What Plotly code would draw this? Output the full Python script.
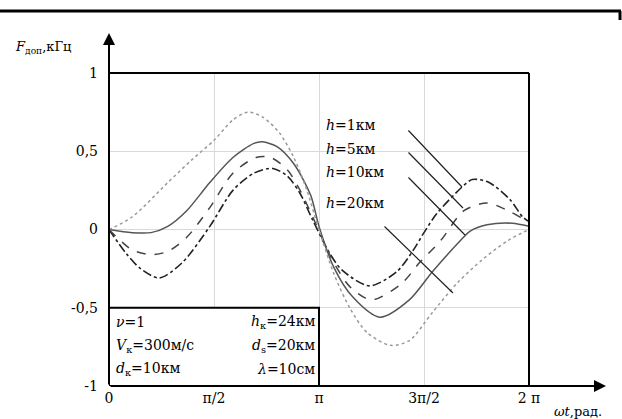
import math
import plotly.graph_objects as go

# x positions in units of pi, values in kHz
t_h1 = [0, 0.08, 0.15, 0.24, 0.35, 0.48, 0.59, 0.69, 0.78, 0.85, 0.91, 0.97, 1.05, 1.11, 1.24, 1.37, 1.45, 1.50, 1.56, 1.68, 1.73, 1.81, 1.91, 1.97, 2.0]
f_h1 = [0, -0.15, -0.25, -0.31, -0.21, 0.02, 0.25, 0.36, 0.39, 0.34, 0.23, 0.06, -0.15, -0.26, -0.36, -0.27, -0.13, -0.02, 0.10, 0.27, 0.32, 0.30, 0.19, 0.08, 0.05]

t_h5 = [0, 0.11, 0.20, 0.28, 0.37, 0.48, 0.59, 0.70, 0.77, 0.85, 0.91, 0.97, 1.07, 1.15, 1.25, 1.39, 1.48, 1.58, 1.69, 1.80, 1.90, 1.97, 2.0]
f_h5 = [0, -0.13, -0.16, -0.14, -0.05, 0.14, 0.36, 0.46, 0.46, 0.38, 0.25, 0.08, -0.21, -0.37, -0.45, -0.35, -0.21, -0.07, 0.12, 0.17, 0.12, 0.07, 0.05]

t_h10 = [0, 0.11, 0.20, 0.28, 0.37, 0.48, 0.59, 0.69, 0.73, 0.80, 0.88, 0.96, 1.0, 1.07, 1.16, 1.29, 1.43, 1.54, 1.66, 1.72, 1.80, 1.92, 2.0]
f_h10 = [0, -0.02, -0.02, 0.02, 0.12, 0.30, 0.46, 0.55, 0.56, 0.53, 0.42, 0.22, 0.02, -0.24, -0.43, -0.56, -0.45, -0.27, -0.09, -0.01, 0.03, 0.04, 0.02]

t_h20 = [0, 0.11, 0.28, 0.39, 0.50, 0.59, 0.66, 0.73, 0.81, 0.88, 0.94, 1.0, 1.07, 1.15, 1.23, 1.34, 1.43, 1.54, 1.66, 1.78, 1.90, 2.0]
f_h20 = [0, 0.08, 0.30, 0.44, 0.57, 0.70, 0.75, 0.72, 0.62, 0.46, 0.26, 0.0, -0.28, -0.51, -0.66, -0.74, -0.71, -0.53, -0.34, -0.19, -0.07, 0.0]

x_tickvals_pi = [0, 0.5, 1, 1.5, 2]
x_ticktext = ["0", "π/2", "π", "3π/2", "2 π"]
y_tickvals = [-1, -0.5, 0, 0.5, 1]
y_ticktext = ["-1", "-0,5", "0", "0,5", "1"]

labels = ["<i>h</i>=1км", "<i>h</i>=5км", "<i>h</i>=10км", "<i>h</i>=20км"]
params_left = ["<i>ν</i>=1", "<i>V</i><sub>к</sub>=300м/с", "<i>d</i><sub>к</sub>=10км"]
params_right = ["<i>h</i><sub>к</sub>=24км", "<i>d</i><sub>s</sub>=20км", "<i>λ</i>=10см"]

FONT = "DejaVu Serif"
W, H = 622, 419
L, R, T, B = 109, 529, 73, 386


def px(xp, yp):
    return (xp - L) / (R - L), (B - yp) / (B - T)


def dx(xp):
    return (xp - L) / (R - L) * 2 * math.pi


def dy(yp):
    return (229.5 - yp) / 156.5


fig = go.Figure()
series = [
    (t_h1, f_h1, dict(color="#222222", width=1.6, dash="dashdot")),
    (t_h5, f_h5, dict(color="#444444", width=1.5, dash="dash")),
    (t_h10, f_h10, dict(color="#555555", width=1.5, dash="solid")),
    (t_h20, f_h20, dict(color="#9a9a9a", width=1.5, dash="dot")),
]
for t, f, ln in series:
    fig.add_trace(go.Scatter(x=[v * math.pi for v in t], y=f, mode="lines",
                             line=dict(shape="spline", smoothing=0.8, **ln),
                             showlegend=False, hoverinfo="skip"))

fig.update_layout(
    width=W, height=H,
    margin=dict(l=L, r=W - R, t=T, b=H - B),
    paper_bgcolor="white", plot_bgcolor="white",
    font=dict(family=FONT, size=14, color="black"),
    xaxis=dict(range=[0, 2 * math.pi], tickvals=[v * math.pi for v in x_tickvals_pi],
               ticktext=x_ticktext, showgrid=True, gridcolor="#d9d9d9", gridwidth=1,
               zeroline=False, showline=False, ticks="", ticklabelstandoff=2,
               tickfont=dict(family=FONT, size=14)),
    yaxis=dict(range=[-1, 1], tickvals=y_tickvals, ticktext=y_ticktext,
               showgrid=True, gridcolor="#d9d9d9", gridwidth=1,
               zeroline=False, showline=False, ticks="", ticklabelstandoff=10,
               tickfont=dict(family=FONT, size=14)),
)

shapes = []
# parameter box
shapes.append(dict(type="rect", xref="x", yref="y", x0=0, x1=math.pi, y0=-1, y1=-0.5,
                   line=dict(color="black", width=2), fillcolor="white", layer="above"))
# frame top and right
for (a, b, c, d) in [(L, T, R, T), (R, T, R, B)]:
    x0, y0 = px(a, b); x1, y1 = px(c, d)
    shapes.append(dict(type="line", xref="paper", yref="paper", x0=x0, y0=y0, x1=x1, y1=y1,
                       line=dict(color="black", width=2)))
# top long rule
for (a, b, c, d) in [(0, 11, 621, 11), (620, 11, 620, 20)]:
    x0, y0 = px(a, b); x1, y1 = px(c, d)
    shapes.append(dict(type="line", xref="paper", yref="paper", x0=x0, y0=y0, x1=x1, y1=y1,
                       line=dict(color="black", width=3)))
fig.update_layout(shapes=shapes)

ann = []
# axes arrows
ax1, ay1 = px(L, 33)
ann.append(dict(xref="paper", yref="paper", x=ax1, y=ay1, axref="pixel", ayref="pixel",
                ax=0, ay=B - 33, showarrow=True, arrowhead=2, arrowsize=1.2, arrowwidth=2,
                arrowcolor="black", text=""))
bx1, by1 = px(606, B)
ann.append(dict(xref="paper", yref="paper", x=bx1, y=by1, ax=-(606 - L), ay=0,
                showarrow=True, arrowhead=2, arrowsize=1.2, arrowwidth=2,
                arrowcolor="black", text=""))
# axis titles
tx, ty = px(13, 47)
ann.append(dict(xref="paper", yref="paper", x=tx, y=ty, xanchor="left", yanchor="middle",
                text="<i>F</i><sub>доп</sub>,кГц", showarrow=False, font=dict(size=13)))
tx, ty = px(552, 411)
ann.append(dict(xref="paper", yref="paper", x=tx, y=ty, xanchor="left", yanchor="middle",
                text="<i>ωt</i>,рад.", showarrow=False, font=dict(size=13)))

# curve labels with leader lines
label_y = [125, 149, 172, 203]
lines = [((407, 129), (462, 187)), ((407, 151), (463, 208)),
         ((407, 176), (465, 235)), ((383, 225), (453, 293))]
for lab, ly, ((x0, y0), (x1, y1)) in zip(labels, label_y, lines):
    ann.append(dict(xref="x", yref="y", x=dx(324), y=dy(ly), xanchor="left", yanchor="middle",
                    text=lab, showarrow=False, font=dict(size=14)))
    ann.append(dict(xref="x", yref="y", x=dx(x1), y=dy(y1), axref="x", ayref="y",
                    ax=dx(x0), ay=dy(y0), showarrow=True, arrowhead=0, arrowwidth=1.2,
                    arrowcolor="#222222", text=""))

# parameter box text
rows_y = [322, 346, 369]
for txt, ry in zip(params_left, rows_y):
    xx, yy = px(114, ry)
    ann.append(dict(xref="paper", yref="paper", x=xx, y=yy, xanchor="left", yanchor="middle",
                    text=txt, showarrow=False, font=dict(size=14)))
for txt, ry in zip(params_right, rows_y):
    xx, yy = px(317, ry)
    ann.append(dict(xref="paper", yref="paper", x=xx, y=yy, xanchor="right", yanchor="middle",
                    text=txt, showarrow=False, font=dict(size=14)))

fig.update_layout(annotations=ann)
fig.write_html("out.html")
